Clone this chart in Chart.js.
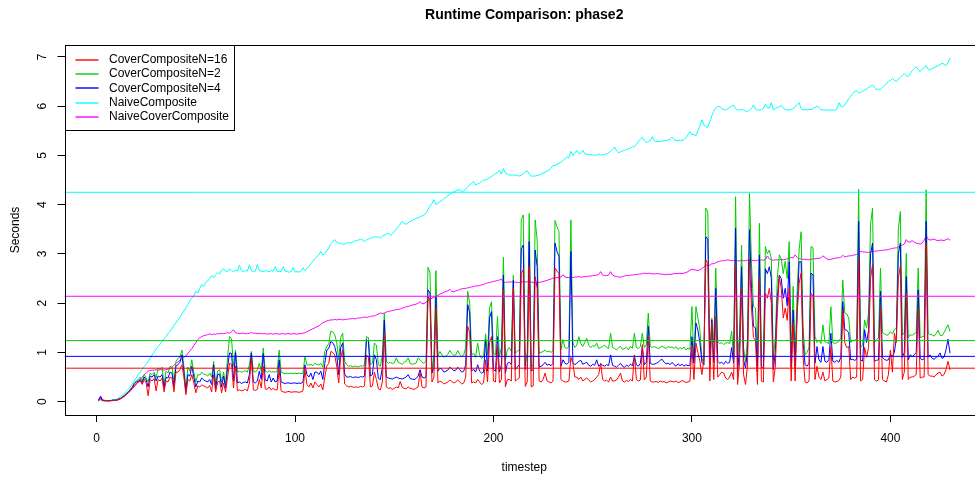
<!DOCTYPE html>
<html><head><meta charset="utf-8">
<script src="https://cdn.jsdelivr.net/npm/chart.js@4.4.1/dist/chart.umd.min.js"></script>
<style>html,body{margin:0;padding:0;background:#fff;overflow:hidden;}canvas{display:block;}</style>
</head><body>
<canvas id="c" width="984" height="477" style="width:984px;height:477px"></canvas>
<script>
const TITLE = 'Runtime Comparison: phase2';
const X_LABEL = 'timestep';
const Y_LABEL = 'Seconds';
const SERIES_NAMES = ['CoverCompositeN=16', 'CoverCompositeN=2', 'CoverCompositeN=4', 'NaiveComposite', 'NaiveCoverComposite'];
const X_TICKS = [0, 100, 200, 300, 400];
const Y_TICKS = [0, 1, 2, 3, 4, 5, 6, 7];
const TIMESTEPS = Array.from({length: 430}, (_, i) => i + 1);
// horizontal reference lines (series means), same order as SERIES_NAMES
const MEAN_VALUES = [0.68, 1.24, 0.92, 4.25, 2.14];

const NAIVE_COMPOSITE = [
0.05,0.03,0.02,0.02,0.02,0.02,0.03,0.03,0.04,0.05,
0.07,0.1,0.13,0.17,0.21,0.25,0.3,0.36,0.42,0.48,
0.55,0.6,0.66,0.71,0.76,0.82,0.88,0.95,1.0,1.07,
1.12,1.17,1.22,1.28,1.32,1.38,1.43,1.48,1.55,1.6,
1.66,1.72,1.78,1.84,1.9,1.97,2.05,2.1,2.15,2.24,
2.2,2.3,2.38,2.34,2.42,2.45,2.5,2.56,2.52,2.58,
2.62,2.59,2.67,2.7,2.65,2.64,2.7,2.66,2.64,2.67,
2.65,2.77,2.66,2.64,2.66,2.65,2.78,2.66,2.64,2.65,
2.78,2.66,2.65,2.64,2.66,2.65,2.64,2.66,2.65,2.74,
2.64,2.65,2.64,2.74,2.65,2.64,2.63,2.64,2.72,2.63,
2.64,2.63,2.65,2.72,2.66,2.7,2.75,2.8,2.85,2.9,
2.95,2.98,3.05,2.98,3.0,3.06,3.12,3.2,3.24,3.29,
3.24,3.22,3.21,3.2,3.2,3.22,3.23,3.22,3.24,3.26,
3.27,3.28,3.3,3.28,3.25,3.28,3.3,3.32,3.33,3.35,
3.34,3.35,3.32,3.36,3.38,3.4,3.42,3.38,3.4,3.45,
3.5,3.55,3.6,3.66,3.62,3.6,3.63,3.66,3.68,3.7,
3.72,3.73,3.75,3.77,3.79,3.83,3.9,3.98,4.02,4.1,
4.0,4.03,4.06,4.08,4.12,4.15,4.18,4.21,4.23,4.26,
4.28,4.3,4.3,4.27,4.28,4.32,4.36,4.4,4.43,4.47,
4.4,4.42,4.44,4.47,4.5,4.5,4.52,4.55,4.57,4.6,
4.63,4.65,4.7,4.62,4.73,4.64,4.62,4.6,4.6,4.6,
4.6,4.59,4.58,4.6,4.63,4.66,4.69,4.62,4.58,4.58,
4.58,4.59,4.6,4.62,4.64,4.66,4.68,4.7,4.74,4.8,
4.79,4.82,4.84,4.86,4.9,4.93,4.97,4.95,5.08,5.0,
5.05,5.1,5.04,5.04,5.1,5.03,5.02,5.02,5.01,5.01,
5.0,5.01,5.02,5.01,5.01,5.02,5.03,5.05,5.08,5.12,
5.17,5.1,5.05,5.07,5.09,5.1,5.12,5.13,5.15,5.17,
5.18,5.22,5.28,5.33,5.37,5.3,5.26,5.28,5.3,5.38,
5.3,5.28,5.28,5.28,5.29,5.3,5.3,5.31,5.33,5.37,
5.32,5.3,5.3,5.31,5.3,5.32,5.36,5.42,5.48,5.42,
5.42,5.4,5.5,5.6,5.72,5.62,5.58,5.57,5.68,5.8,
5.9,5.96,5.99,5.99,5.95,5.93,5.92,5.95,5.97,6.0,
6.02,5.95,5.92,5.92,5.93,5.92,5.9,5.89,5.92,5.95,
6.02,5.94,5.92,5.92,5.93,5.95,6.04,5.97,5.96,6.07,
5.92,5.95,5.97,5.99,6.01,5.96,5.93,5.92,5.92,5.93,
5.95,5.99,6.03,6.07,5.95,5.92,5.93,5.92,5.93,5.93,
5.95,5.97,6.0,5.97,5.93,5.92,5.92,5.92,5.92,5.92,
5.92,5.92,5.93,6.07,6.0,5.98,6.02,6.08,6.15,6.2,
6.25,6.3,6.31,6.26,6.28,6.3,6.33,6.35,6.38,6.4,
6.43,6.38,6.33,6.35,6.33,6.38,6.42,6.45,6.5,6.52,
6.56,6.52,6.5,6.55,6.58,6.62,6.66,6.62,6.6,6.66,
6.72,6.76,6.8,6.74,6.7,6.75,6.78,6.82,6.75,6.73,
6.76,6.78,6.8,6.82,6.84,6.87,6.85,6.82,6.88,6.97];

const NAIVE_COVER_COMPOSITE = [
0.03,0.12,0.04,0.03,0.02,0.02,0.02,0.03,0.03,0.03,
0.04,0.06,0.08,0.11,0.14,0.18,0.22,0.26,0.3,0.35,
0.4,0.45,0.5,0.55,0.58,0.62,0.63,0.64,0.64,0.65,
0.64,0.65,0.65,0.64,0.65,0.66,0.67,0.7,0.74,0.78,
0.81,0.84,0.87,0.9,0.93,0.98,1.03,1.08,1.14,1.2,
1.26,1.3,1.32,1.34,1.35,1.36,1.38,1.36,1.37,1.37,
1.38,1.38,1.39,1.38,1.39,1.4,1.39,1.42,1.46,1.4,
1.39,1.38,1.39,1.39,1.38,1.38,1.39,1.4,1.39,1.39,
1.38,1.39,1.38,1.38,1.38,1.37,1.38,1.38,1.37,1.38,
1.38,1.37,1.38,1.38,1.37,1.38,1.38,1.37,1.38,1.38,
1.37,1.38,1.38,1.39,1.4,1.42,1.44,1.46,1.48,1.5,
1.52,1.54,1.57,1.6,1.62,1.64,1.65,1.66,1.66,1.67,
1.66,1.67,1.67,1.66,1.67,1.67,1.68,1.68,1.69,1.68,
1.69,1.7,1.7,1.71,1.72,1.71,1.72,1.73,1.74,1.74,
1.76,1.78,1.8,1.79,1.8,1.82,1.83,1.84,1.85,1.86,
1.87,1.87,1.88,1.9,1.91,1.93,1.93,1.95,1.96,1.97,
1.98,2.0,2.03,1.99,1.99,2.02,2.05,2.08,2.1,2.12,
2.14,2.16,2.18,2.2,2.22,2.24,2.25,2.28,2.24,2.23,
2.25,2.26,2.28,2.29,2.3,2.3,2.31,2.32,2.33,2.34,
2.35,2.35,2.36,2.37,2.38,2.4,2.41,2.42,2.43,2.44,
2.45,2.46,2.47,2.49,2.42,2.42,2.43,2.43,2.43,2.42,
2.43,2.42,2.42,2.43,2.44,2.43,2.43,2.44,2.43,2.42,
2.41,2.42,2.42,2.43,2.44,2.45,2.46,2.48,2.49,2.51,
2.51,2.52,2.52,2.53,2.58,2.53,2.52,2.52,2.52,2.52,
2.53,2.53,2.54,2.53,2.53,2.54,2.54,2.55,2.55,2.56,
2.56,2.57,2.58,2.64,2.57,2.56,2.56,2.57,2.64,2.57,
2.55,2.54,2.53,2.53,2.54,2.55,2.56,2.56,2.57,2.57,
2.58,2.58,2.59,2.59,2.6,2.61,2.6,2.61,2.6,2.6,
2.59,2.6,2.6,2.59,2.59,2.58,2.58,2.59,2.58,2.59,
2.6,2.6,2.6,2.61,2.6,2.61,2.62,2.64,2.67,2.69,
2.68,2.67,2.66,2.68,2.7,2.73,2.78,2.76,2.77,2.8,
2.8,2.82,2.84,2.85,2.86,2.86,2.87,2.88,2.87,2.86,
2.87,2.86,2.86,2.86,2.87,2.86,2.86,2.87,2.86,2.86,
2.87,2.86,2.87,2.87,2.88,2.87,2.88,2.96,2.9,2.88,
2.87,2.88,2.88,2.88,2.89,2.88,2.89,2.9,2.91,2.93,
2.92,2.98,2.93,2.9,2.9,2.89,2.89,2.88,2.88,2.89,
2.9,2.9,2.91,2.91,2.92,2.96,2.93,2.9,2.88,2.89,
2.9,2.91,2.92,2.92,2.93,2.97,2.94,2.95,2.96,2.96,
2.97,2.98,2.99,3.02,3.05,3.04,3.04,3.03,3.03,3.04,
3.05,3.05,3.06,3.06,3.07,3.07,3.08,3.08,3.09,3.1,
3.11,3.12,3.12,3.14,3.16,3.18,3.2,3.29,3.24,3.24,
3.27,3.24,3.22,3.21,3.2,3.22,3.28,3.37,3.3,3.28,
3.29,3.3,3.28,3.27,3.28,3.28,3.27,3.29,3.31,3.28];

const COVER_N2 = [
0.03,0.05,0.03,0.02,0.02,0.02,0.02,0.03,0.03,0.03,
0.05,0.07,0.1,0.13,0.17,0.2,0.25,0.3,0.38,0.42,
0.45,0.5,0.42,0.55,0.48,0.4,0.58,0.55,0.6,0.48,
0.68,0.66,0.7,0.35,0.62,0.58,0.72,0.7,0.4,0.82,
0.88,0.9,1.05,0.72,0.25,0.7,0.62,0.85,0.6,0.4,
0.55,0.54,0.6,0.56,0.55,0.52,0.58,0.5,0.82,0.35,
0.62,0.65,0.4,0.6,0.35,0.9,1.32,1.28,0.72,1.05,
0.6,0.62,0.6,0.61,0.63,0.6,0.75,1.02,0.62,0.6,
0.65,0.78,0.62,1.09,0.62,0.6,0.63,0.6,0.61,0.6,
0.62,1.05,0.6,0.58,0.57,0.58,0.57,0.58,0.57,0.58,
0.57,0.58,0.57,0.58,0.92,0.75,0.74,0.76,0.73,0.78,
0.76,0.74,0.78,0.7,1.02,1.12,1.18,1.43,1.42,1.36,
1.2,0.85,1.3,1.39,0.82,0.75,0.72,0.73,0.71,0.72,
0.72,0.71,0.73,0.72,0.74,1.32,1.3,0.75,0.78,1.19,
1.15,0.75,0.72,0.95,1.8,0.82,0.78,0.8,0.77,0.79,
0.89,0.8,0.78,0.76,0.8,0.82,0.89,0.78,0.76,0.77,
0.78,0.89,0.85,0.8,0.78,0.82,2.73,2.62,0.6,0.95,
2.66,0.92,1.02,0.95,0.9,0.93,0.96,1.04,0.98,0.94,
0.95,1.04,0.96,0.92,0.95,1.1,2.24,2.0,0.95,0.98,
0.9,1.19,0.95,0.88,0.92,1.38,0.95,1.9,2.03,0.98,
0.95,1.73,0.92,1.1,2.93,0.85,1.05,1.1,1.02,2.57,
0.99,1.02,1.05,3.7,3.79,0.72,1.0,3.82,0.7,0.75,
3.69,3.28,0.98,1.0,1.02,1.05,1.01,1.03,1.0,1.04,
3.68,3.55,3.45,1.05,1.26,1.1,1.08,1.12,3.69,1.2,
1.1,1.15,1.32,1.18,1.12,1.2,1.29,1.15,1.1,1.14,
1.12,1.19,1.08,1.1,1.12,1.15,1.1,1.08,1.39,1.1,
1.08,1.05,1.1,1.12,1.06,1.08,1.1,1.05,1.12,1.08,
1.39,1.1,1.08,1.12,1.39,1.1,1.15,1.8,1.12,1.1,
1.12,1.1,1.08,1.1,1.13,1.1,1.08,1.12,1.1,1.11,
1.08,1.12,1.06,1.1,1.07,1.11,1.05,1.09,1.06,1.93,
0.8,1.93,1.7,1.45,0.9,0.75,3.93,3.85,0.9,1.7,
1.2,2.71,1.22,1.18,1.2,1.16,1.19,1.2,1.18,1.43,
0.9,4.16,0.85,1.4,3.18,1.1,0.8,1.3,4.23,2.8,
1.93,1.9,0.8,3.62,0.95,0.9,3.15,3.0,3.08,2.9,
0.85,1.3,2.5,2.98,2.9,2.6,2.85,2.5,3.25,0.95,
2.34,0.9,2.24,3.08,3.45,1.5,0.95,1.0,1.1,3.15,
3.12,1.33,1.2,1.25,1.18,1.56,1.22,1.2,1.18,1.93,
1.2,1.18,1.2,1.22,1.3,2.47,1.8,1.78,1.7,1.2,
1.25,1.24,1.28,4.31,1.1,1.15,1.66,1.5,1.8,3.6,
3.93,1.2,1.26,1.3,2.71,1.4,1.38,1.35,1.36,1.42,
1.38,1.46,1.5,3.5,3.86,1.35,1.4,3.01,1.3,1.36,
1.35,1.38,1.4,2.71,1.3,1.32,1.33,4.3,1.4,1.36,
1.36,1.33,1.38,1.45,1.35,1.34,1.4,1.48,1.56,1.43];

const COVER_N4 = [
0.03,0.1,0.03,0.02,0.02,0.02,0.02,0.03,0.03,0.03,
0.05,0.06,0.09,0.12,0.16,0.19,0.24,0.29,0.36,0.4,
0.42,0.45,0.38,0.5,0.44,0.3,0.52,0.5,0.55,0.42,
0.52,0.5,0.55,0.28,0.5,0.48,0.6,0.58,0.3,0.72,
0.75,0.8,0.95,0.6,0.2,0.55,0.52,0.72,0.5,0.3,
0.42,0.4,0.48,0.44,0.42,0.4,0.45,0.35,0.75,0.25,
0.55,0.56,0.3,0.52,0.28,0.7,0.99,0.98,0.42,1.0,
0.38,0.4,0.37,0.39,0.4,0.38,0.55,0.99,0.4,0.38,
0.42,0.62,0.45,0.98,0.44,0.42,0.55,0.4,0.48,0.4,
0.42,0.85,0.4,0.38,0.37,0.38,0.38,0.37,0.38,0.38,
0.37,0.38,0.37,0.4,0.75,0.55,0.5,0.58,0.45,0.6,
0.6,0.55,0.62,0.45,0.78,1.05,1.08,1.22,1.2,1.12,
0.95,0.55,1.1,1.19,0.56,0.5,0.5,0.51,0.49,0.5,
0.5,0.49,0.51,0.5,0.52,1.26,1.22,0.52,0.55,0.95,
0.85,0.47,0.45,0.7,1.66,0.5,0.48,0.47,0.46,0.48,
0.5,0.48,0.47,0.46,0.48,0.5,0.55,0.47,0.46,0.45,
0.47,0.52,0.65,0.5,0.48,0.5,2.27,2.2,0.58,0.7,
2.13,0.62,0.68,0.66,0.6,0.62,0.64,0.7,0.67,0.63,
0.64,0.7,0.65,0.6,0.62,0.75,1.97,1.8,0.62,0.66,
0.6,0.75,0.62,0.58,0.6,1.26,0.62,1.7,1.83,0.65,
0.62,1.32,0.6,0.75,2.57,0.58,0.78,0.8,0.75,2.47,
0.65,0.7,0.75,3.1,3.18,0.65,0.7,3.25,0.62,0.65,
3.08,2.74,0.7,0.72,0.75,0.8,0.74,0.76,0.73,0.78,
3.22,3.05,2.95,0.72,0.85,0.78,0.76,0.8,3.05,0.8,
0.75,0.78,0.82,0.84,0.76,0.78,0.8,0.74,0.72,0.76,
0.74,0.85,0.72,0.76,0.74,0.72,0.75,0.73,0.95,0.74,
0.72,0.7,0.74,0.78,0.72,0.7,0.74,0.72,0.76,0.73,
0.92,0.75,0.72,0.78,1.12,0.75,0.8,1.53,0.78,0.76,
0.76,0.78,0.8,0.84,0.86,0.8,0.77,0.78,0.75,0.8,
0.75,0.72,0.77,0.73,0.76,0.72,0.75,0.73,0.74,1.32,
0.78,1.6,1.45,1.2,0.8,0.75,3.35,3.3,0.75,1.66,
0.8,2.3,0.82,0.78,0.8,0.76,0.82,0.78,0.8,1.1,
0.78,3.52,0.6,1.1,2.74,0.85,0.68,1.05,3.49,2.3,
1.53,1.5,0.6,2.98,0.7,0.68,2.7,2.6,2.74,2.5,
0.65,1.0,2.1,2.57,2.5,2.1,2.3,1.95,2.84,0.7,
1.86,0.72,1.8,2.84,2.84,1.2,0.75,0.72,0.78,2.61,
2.57,0.78,1.12,0.85,0.8,1.12,0.82,0.8,0.85,1.39,
0.82,0.8,0.84,0.8,0.9,2.03,1.46,1.45,1.4,0.85,
0.86,0.84,0.86,3.66,0.85,0.82,1.46,1.2,1.45,3.0,
3.22,0.82,0.84,0.85,2.24,0.9,0.86,0.84,0.85,0.96,
0.92,1.0,1.3,3.0,3.22,0.9,1.0,2.54,0.85,0.95,
0.92,0.95,1.0,2.27,0.88,0.85,0.87,3.66,0.9,0.95,
0.88,0.86,0.9,0.92,0.99,0.88,0.9,1.05,1.27,0.99];

const COVER_N16 = [
0.02,0.06,0.02,0.02,0.02,0.02,0.02,0.02,0.03,0.03,
0.04,0.06,0.08,0.11,0.15,0.18,0.22,0.27,0.33,0.37,
0.4,0.42,0.35,0.45,0.38,0.12,0.45,0.42,0.47,0.22,
0.45,0.42,0.48,0.2,0.42,0.4,0.5,0.48,0.2,0.6,
0.6,0.65,0.75,0.5,0.14,0.45,0.42,0.55,0.38,0.18,
0.32,0.3,0.34,0.32,0.3,0.28,0.33,0.2,0.55,0.2,
0.4,0.42,0.18,0.38,0.2,0.5,0.78,0.76,0.28,0.72,
0.22,0.24,0.22,0.23,0.25,0.22,0.38,0.89,0.24,0.23,
0.25,0.45,0.28,0.72,0.26,0.25,0.3,0.24,0.27,0.24,
0.24,0.65,0.22,0.2,0.19,0.2,0.21,0.19,0.2,0.2,
0.2,0.19,0.2,0.22,0.65,0.35,0.3,0.38,0.28,0.4,
0.35,0.3,0.36,0.24,0.5,0.72,0.78,1.02,1.0,0.95,
0.72,0.38,0.9,1.05,0.36,0.32,0.3,0.31,0.3,0.29,
0.3,0.29,0.31,0.3,0.32,0.95,0.9,0.3,0.32,0.6,
0.45,0.26,0.24,0.4,1.39,0.3,0.27,0.28,0.25,0.27,
0.3,0.28,0.41,0.29,0.27,0.26,0.3,0.27,0.26,0.25,
0.27,0.3,0.6,0.3,0.28,0.3,2.14,2.05,0.4,0.5,
1.9,0.38,0.42,0.4,0.36,0.38,0.4,0.44,0.41,0.38,
0.4,0.44,0.4,0.36,0.38,0.5,1.53,1.4,0.38,0.4,
0.38,0.45,0.4,0.35,0.38,0.85,0.4,1.2,1.32,0.42,
0.4,1.12,0.38,0.45,2.27,0.3,0.45,0.45,0.42,2.3,
0.42,0.45,0.48,2.6,2.68,0.31,0.4,2.75,0.3,0.32,
2.54,2.3,0.42,0.4,0.45,0.58,0.42,0.4,0.38,0.42,
2.71,2.65,2.6,0.45,0.42,0.4,0.4,0.42,0.9,0.78,
0.5,0.5,0.45,0.5,0.42,0.45,0.48,0.44,0.4,0.42,
0.45,0.5,0.55,0.78,0.45,0.42,0.44,0.4,0.5,0.42,
0.42,0.44,0.5,0.58,0.42,0.4,0.43,0.41,0.45,0.42,
0.95,0.45,0.42,0.44,1.16,0.44,0.5,1.32,0.42,0.4,
0.4,0.41,0.39,0.42,0.4,0.41,0.38,0.4,0.42,0.41,
0.4,0.42,0.39,0.4,0.43,0.41,0.39,0.4,0.42,1.12,
0.45,1.19,1.0,0.82,0.55,0.85,2.88,2.8,0.42,1.6,
0.45,1.73,0.5,0.55,0.6,0.58,0.48,0.45,0.5,0.6,
0.45,2.8,0.35,0.8,2.3,0.55,0.35,0.75,2.9,1.9,
1.3,1.25,0.35,2.5,0.42,0.4,2.2,2.1,2.3,2.0,
0.4,0.7,1.8,2.54,2.3,1.7,1.9,1.65,2.3,0.42,
1.6,0.42,1.8,2.4,2.61,0.9,0.4,0.38,0.42,2.2,
2.14,0.45,0.72,0.5,0.45,0.6,0.42,0.45,0.48,1.12,
0.42,0.4,0.41,0.43,0.5,1.86,1.2,1.1,1.12,0.45,
0.5,0.48,0.5,2.9,0.42,0.45,1.1,0.9,1.1,2.5,
2.78,0.45,0.42,0.44,1.93,0.45,0.42,0.4,0.55,1.05,
0.6,1.39,1.2,2.5,2.75,0.45,0.6,2.2,0.45,0.5,
0.5,0.52,0.55,1.9,0.48,0.5,0.5,3.22,0.55,0.52,
0.52,0.5,0.55,0.58,0.6,0.52,0.55,0.65,0.82,0.65];

// ----- styling / layout (kept separate from data) -----
const SERIES_DATA = [COVER_N16, COVER_N2, COVER_N4, NAIVE_COMPOSITE, NAIVE_COVER_COMPOSITE];
const COLORS = ['#FF0000', '#00CD00', '#0000FF', '#00FFFF', '#FF00FF'];
const DRAW_ORDER = [1, 3, 2, 5, 4]; // lower = drawn on top
const FONT = '"Liberation Sans", Arial, Helvetica, sans-serif';
const X_MIN = -16.16, X_MAX = 447.16;
const Y_MIN = -0.27, Y_MAX = 7.24;

const datasets = SERIES_DATA.map((arr, k) => ({
  label: SERIES_NAMES[k],
  data: arr.map((v, i) => ({x: TIMESTEPS[i], y: v})),
  borderColor: COLORS[k],
  backgroundColor: COLORS[k],
  borderWidth: 1,
  pointRadius: 0,
  tension: 0,
  fill: false,
  borderJoinStyle: 'round',
  borderCapStyle: 'round',
  order: DRAW_ORDER[k]
}));
MEAN_VALUES.forEach((m, k) => {
  datasets.push({
    label: SERIES_NAMES[k] + ' mean',
    isMean: true,
    data: [{x: X_MIN, y: m}, {x: X_MAX, y: m}],
    borderColor: COLORS[k],
    borderWidth: 1,
    pointRadius: 0,
    fill: false,
    order: 0
  });
});

const rFrame = {
  id: 'rFrame',
  afterDraw(chart) {
    const ctx = chart.ctx, ca = chart.chartArea;
    ctx.save();
    ctx.strokeStyle = '#000';
    ctx.lineWidth = 1;
    const L = Math.round(ca.left) + 0.5, T = Math.round(ca.top) + 0.5;
    const R = Math.round(ca.right) - 0.5, B = Math.round(ca.bottom) + 0.5;
    ctx.strokeRect(L, T, R - L, B - T);
    // title
    ctx.fillStyle = '#000';
    ctx.font = 'bold 14px ' + FONT;
    ctx.textAlign = 'center';
    ctx.textBaseline = 'middle';
    ctx.fillText(TITLE, (ca.left + ca.right) / 2, 15);
    // legend (R style, top-left inside plot)
    ctx.font = '12px ' + FONT;
    const items = chart.data.datasets.filter(d => !d.isMean);
    let maxW = 0;
    items.forEach(d => { maxW = Math.max(maxW, ctx.measureText(d.label).width); });
    const textX = L + 43.5;
    const boxR = Math.round(textX + maxW + 5) + 0.5;
    const boxB = T + 85;
    ctx.fillStyle = '#fff';
    ctx.fillRect(L, T, boxR - L, boxB - T);
    ctx.strokeStyle = '#000';
    ctx.strokeRect(L, T, boxR - L, boxB - T);
    ctx.textAlign = 'left';
    items.forEach((d, i) => {
      const y = T + 14 + i * 14.4;
      ctx.strokeStyle = d.borderColor;
      ctx.lineWidth = 1.4;
      ctx.beginPath();
      ctx.moveTo(L + 10, Math.round(y));
      ctx.lineTo(L + 33, Math.round(y));
      ctx.stroke();
      ctx.fillStyle = '#000';
      ctx.fillText(d.label, textX, y);
    });
    ctx.restore();
  }
};

new Chart(document.getElementById('c'), {
  type: 'line',
  data: {datasets},
  options: {
    responsive: false,
    animation: false,
    devicePixelRatio: 1,
    events: [],
    layout: {padding: {top: 45, left: 0, right: 0, bottom: 0}},
    plugins: {legend: {display: false}, title: {display: false}, tooltip: {enabled: false}},
    scales: {
      x: {
        type: 'linear', min: X_MIN, max: X_MAX,
        afterBuildTicks: s => { s.ticks = X_TICKS.map(v => ({value: v})); },
        afterFit: s => { s.height = 62; },
        grid: {drawOnChartArea: false, drawTicks: true, tickLength: 7, tickColor: '#000', tickWidth: 1},
        border: {display: false},
        ticks: {minRotation: 0, maxRotation: 0, autoSkip: false, padding: 9, color: '#000', font: {size: 12, family: FONT}},
        title: {display: true, text: X_LABEL, color: '#000', font: {size: 12, family: FONT}, padding: {top: 0, bottom: 2}}
      },
      y: {
        type: 'linear', min: Y_MIN, max: Y_MAX,
        afterBuildTicks: s => { s.ticks = Y_TICKS.map(v => ({value: v})); },
        afterFit: s => { s.width = 64.5; },
        grid: {drawOnChartArea: false, drawTicks: true, tickLength: 7, tickColor: '#000', tickWidth: 1},
        border: {display: false},
        ticks: {minRotation: 90, maxRotation: 90, crossAlign: 'center', autoSkip: false, padding: 11, color: '#000', font: {size: 12, family: FONT}},
        title: {display: true, text: Y_LABEL, color: '#000', font: {size: 12, family: FONT}, padding: {top: 8, bottom: 0}}
      }
    }
  },
  plugins: [rFrame]
});
</script>
</body></html>
